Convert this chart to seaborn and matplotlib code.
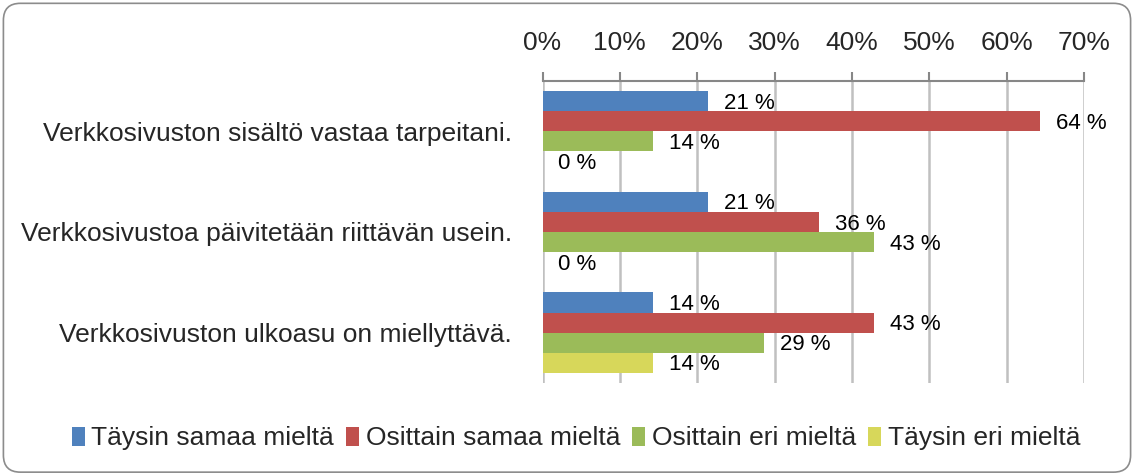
import pandas as pd
import matplotlib.pyplot as plt
import seaborn as sns
from matplotlib.patches import FancyBboxPatch
from matplotlib.ticker import FuncFormatter

sns.set_theme(style="white")
plt.rcParams["font.family"] = ["Liberation Sans", "DejaVu Sans"]

STATEMENTS = [
    "Verkkosivuston sisältö vastaa tarpeitani.",
    "Verkkosivustoa päivitetään riittävän usein.",
    "Verkkosivuston ulkoasu on miellyttävä.",
]
SERIES = ["Täysin samaa mieltä", "Osittain samaa mieltä", "Osittain eri mieltä", "Täysin eri mieltä"]
TAYSIN_SAMAA = [21.4, 21.4, 14.3]
OSITTAIN_SAMAA = [64.3, 35.7, 42.9]
OSITTAIN_ERI = [14.3, 42.9, 28.6]
TAYSIN_ERI = [0.0, 0.0, 14.3]
COLORS = ["#4F81BD", "#C0504D", "#9BBB59", "#D7D75A"]

rows = []
for name, vals in zip(SERIES, [TAYSIN_SAMAA, OSITTAIN_SAMAA, OSITTAIN_ERI, TAYSIN_ERI]):
    for st, v in zip(STATEMENTS, vals):
        rows.append({"statement": st, "series": name, "value": v})
df = pd.DataFrame(rows)

fig = plt.figure(figsize=(11.34, 4.75), dpi=100)
ax = fig.add_axes([0.4784, 0.1937, 0.4775, 0.6358])

sns.barplot(data=df, y="statement", x="value", hue="series", order=STATEMENTS,
            hue_order=SERIES, palette=COLORS, orient="h", width=0.8,
            saturation=1, linewidth=0, ax=ax, legend=True)

for cont in ax.containers:
    for bar in cont:
        w = bar.get_width()
        ax.annotate(f"{round(w)} %", (w, bar.get_y() + bar.get_height() / 2),
                    xytext=(11.5, -1.5), textcoords="offset points",
                    va="center", ha="left", fontsize=16, color="black")

ax.set_xlim(0, 70)
ax.set_ylim(2.5, -0.5)
ax.set_xticks(range(0, 71, 10))
ax.xaxis.set_major_formatter(FuncFormatter(lambda v, p: f"{int(v)}%"))
ax.xaxis.tick_top()
ax.tick_params(axis="x", which="both", top=True, bottom=False, length=6.5, width=1.5,
               color="#878787", labelsize=19, pad=12, direction="out")
ax.tick_params(axis="y", left=False, labelsize=19, pad=16)
ax.grid(axis="x", color="#C0C0C0", linewidth=1.8)
ax.set_axisbelow(True)
for side in ["right", "bottom", "left"]:
    ax.spines[side].set_visible(False)
ax.spines["top"].set_color("#878787")
ax.spines["top"].set_linewidth(1.5)
ax.set_xlabel("")
ax.set_ylabel("")

handles, labels = ax.get_legend_handles_labels()
ax.legend_.remove()
fig.legend(handles, labels, loc="center", bbox_to_anchor=(0.508, 0.077), ncol=4,
           frameon=False, fontsize=19, handlelength=0.5, handleheight=0.75,
           handletextpad=0.25, columnspacing=0.45)

border = FancyBboxPatch((0.003, 0.006), 0.994, 0.987, boxstyle="round,pad=0,rounding_size=0.015",
                        transform=fig.transFigure, facecolor="none", edgecolor="#8C8C8C",
                        linewidth=1.2, mutation_aspect=1134 / 475)
fig.patches.append(border)

fig.savefig("out.png", dpi=100)
